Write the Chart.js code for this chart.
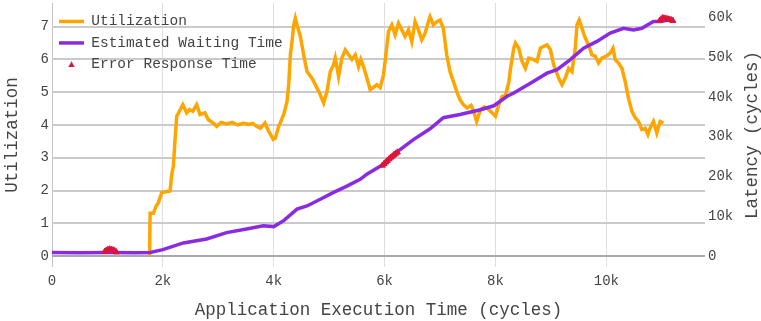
<!DOCTYPE html>
<html>
<head>
<meta charset="utf-8">
<script src="https://cdn.jsdelivr.net/npm/chart.js@4.4.1/dist/chart.umd.min.js"></script>
<style>
    html, body { margin: 0; padding: 0; background: #fff; }
    #wrap { width: 761px; height: 321px; position: relative; }
</style>
</head>
<body>
<div id="wrap"><canvas id="chart"></canvas></div>
<script>
// Utilization over execution time (cycles)
const utilTime = [1760, 1770, 1830, 1870, 1920, 1980, 2130, 2160, 2190, 2220, 2250, 2300, 2360, 2430, 2480, 2540,
    2610, 2670, 2760, 2820, 2910, 2970, 3050, 3150, 3250, 3350, 3450, 3550, 3620, 3690, 3760, 3840, 3900, 3990,
    4030, 4080, 4180, 4240, 4270, 4300, 4330, 4360, 4390, 4420, 4480, 4540, 4600, 4690, 4750, 4840, 4900, 4960,
    5020, 5080, 5110, 5170, 5230, 5290, 5350, 5410, 5470, 5530, 5570, 5620, 5680, 5740, 5800, 5860, 5920, 5980,
    6020, 6070, 6130, 6190, 6250, 6310, 6370, 6430, 6490, 6550, 6610, 6670, 6730, 6790, 6820, 6880, 6940, 7000,
    7060, 7120, 7180, 7240, 7310, 7360, 7420, 7490, 7560, 7600, 7660, 7730, 7800, 7850, 7910, 8000, 8060, 8120,
    8180, 8240, 8270, 8330, 8360, 8420, 8480, 8540, 8600, 8680, 8750, 8810, 8870, 8930, 8990, 9050, 9140, 9200,
    9260, 9320, 9380, 9440, 9470, 9510, 9560, 9620, 9680, 9740, 9800, 9860, 9920, 10000, 10070, 10120, 10160,
    10220, 10280, 10340, 10400, 10460, 10520, 10580, 10640, 10700, 10750, 10790, 10850, 10910, 10970, 11030];
const utilValues = [0, 1.31, 1.31, 1.5, 1.64, 1.94, 1.99, 2.49, 2.75, 3.56, 4.27, 4.42, 4.62, 4.37, 4.47, 4.42,
    4.62, 4.32, 4.37, 4.16, 4.06, 3.96, 4.08, 4.03, 4.08, 4.0, 4.05, 4.02, 4.05, 3.96, 3.9, 4.06, 3.84, 3.56,
    3.6, 3.91, 4.32, 4.72, 5.23, 6.14, 6.54, 7.05, 7.26, 7.05, 6.7, 6.14, 5.63, 5.43, 5.23, 4.92, 4.67, 5.02,
    5.63, 5.84, 6.04, 5.48, 6.04, 6.29, 6.14, 6.0, 6.14, 5.78, 6.0, 5.78, 5.43, 5.08, 5.15, 5.23, 5.14, 5.53,
    6.1, 6.85, 7.05, 6.75, 7.1, 6.9, 6.7, 6.9, 6.54, 7.15, 6.9, 6.6, 6.8, 7.15, 7.3, 7.05, 7.15, 7.2,
    6.95, 6.14, 5.63, 5.33, 4.98, 4.77, 4.62, 4.52, 4.6, 4.45, 4.11, 4.47, 4.55, 4.52, 4.42, 4.27, 4.62, 4.87,
    4.9, 5.3, 5.7, 6.34, 6.5, 6.34, 5.94, 5.73, 6.04, 6.0, 5.94, 6.34, 6.4, 6.44, 6.3, 5.84, 5.43, 5.23,
    5.43, 5.73, 5.63, 6.34, 7.05, 7.2, 6.95, 6.65, 6.44, 6.14, 6.1, 5.89, 6.04, 6.1, 6.19, 6.34, 5.99,
    5.89, 5.73, 5.33, 4.82, 4.42, 4.22, 4.11, 3.86, 3.9, 3.71, 3.91, 4.11, 3.76, 4.11, 4.06];

// Estimated waiting time (latency, cycles)
const waitTime = [0, 500, 1000, 1500, 1770, 2000, 2370, 2790, 3150, 3510, 3810, 4000, 4180, 4420, 4600, 4840,
    5080, 5320, 5560, 5680, 5980, 6280, 6520, 6820, 7060, 7360, 7730, 7970, 8210, 8330, 8630, 8930, 9110,
    9350, 9590, 9830, 10070, 10310, 10490, 10640, 10850, 10970, 11100];
const waitValues = [900, 850, 900, 850, 900, 1600, 3300, 4300, 5900, 6800, 7600, 7400, 8900, 11800, 12600, 14300,
    16000, 17600, 19300, 20600, 23100, 26800, 29300, 32000, 34800, 35600, 36800, 37800, 40200, 41000, 43500,
    46000, 46900, 49400, 52300, 54000, 56100, 57300, 56900, 57300, 59000, 59000, 59300];

// Error response time samples
const errTime = [950, 980, 1010, 1040, 1070, 1100, 1130, 1160,
    5960, 5990, 6020, 6050, 6080, 6110, 6140, 6170, 6200, 6230,
    10960, 10990, 11020, 11050, 11080, 11110, 11140, 11170, 11200];
const errValues = [1100, 1400, 1600, 1700, 1600, 1500, 1300, 1000,
    22800, 23200, 23600, 24000, 24400, 24800, 25100, 25500, 25800, 26100,
    59200, 59600, 59900, 59800, 59700, 59600, 59500, 59400, 59200];

// Tick positions
const xTicks = [0, 2000, 4000, 6000, 8000, 10000];
const utilTicks = [0, 1, 2, 3, 4, 5, 6, 7];
const latencyTicks = [0, 10000, 20000, 30000, 40000, 50000, 60000];

const FONT = '"Courier New", "Liberation Mono", monospace';
const TEXT = '#444';

function toPoints(xs, ys) {
    return xs.map((x, i) => ({ x: x, y: ys[i] }));
}

function kLabel(v) {
    return v === 0 ? '0' : (v / 1000) + 'k';
}

function fixedTicks(values) {
    return scale => { scale.ticks = values.map(v => ({ value: v })); };
}

// no extra room around the plot for half tick labels
function fixSize(prop, size) {
    return scale => {
        scale[prop] = size;
        scale.paddingTop = 0;
        scale.paddingBottom = 0;
        scale.paddingLeft = 0;
        scale.paddingRight = 0;
    };
}

// small triangle used as the legend icon for the error series
function triangleIcon(color) {
    const c = document.createElement('canvas');
    c.width = 7;
    c.height = 6;
    const g = c.getContext('2d');
    g.fillStyle = color;
    g.beginPath();
    g.moveTo(3.5, 0);
    g.lineTo(7, 6);
    g.lineTo(0, 6);
    g.closePath();
    g.fill();
    return c;
}

// Right axis title reads bottom-to-top, so it is drawn here
const latencyTitle = {
    id: 'latencyTitle',
    afterDraw(chart) {
        const ctx = chart.ctx;
        const area = chart.chartArea;
        ctx.save();
        ctx.translate(752, (area.top + area.bottom) / 2);
        ctx.rotate(-Math.PI / 2);
        ctx.font = '17.5px ' + FONT;
        ctx.fillStyle = TEXT;
        ctx.textAlign = 'center';
        ctx.textBaseline = 'middle';
        ctx.fillText('Latency (cycles)', 0, 0);
        ctx.restore();
    }
};

const errIcon = triangleIcon('#DC143C');

const ctx = document.getElementById('chart').getContext('2d');
new Chart(ctx, {
    type: 'line',
    data: {
        datasets: [
            {
                label: 'Utilization',
                data: toPoints(utilTime, utilValues),
                borderColor: '#FFA500',
                backgroundColor: '#FFA500',
                borderWidth: 3.5,
                pointRadius: 0,
                pointStyle: 'line',
                yAxisID: 'y',
                order: 3
            },
            {
                label: 'Estimated Waiting Time',
                data: toPoints(waitTime, waitValues),
                borderColor: '#8A2BE2',
                backgroundColor: '#8A2BE2',
                borderWidth: 3.5,
                pointRadius: 0,
                pointStyle: 'line',
                yAxisID: 'y1',
                order: 2
            },
            {
                label: 'Error Response Time',
                data: toPoints(errTime, errValues),
                showLine: false,
                borderColor: '#DC143C',
                backgroundColor: '#DC143C',
                borderWidth: 1,
                pointRadius: 3.5,
                pointStyle: 'triangle',
                yAxisID: 'y1',
                order: 1
            }
        ]
    },
    options: {
        responsive: true,
        maintainAspectRatio: false,
        animation: false,
        layout: { autoPadding: false, padding: { top: 3 } },
        plugins: {
            tooltip: { enabled: false },
            legend: {
                position: 'chartArea',
                align: 'start',
                title: { display: true, text: '', font: { size: 1 }, padding: 3 },
                labels: {
                    usePointStyle: true,
                    pointStyleWidth: 25,
                    boxHeight: 4,
                    padding: 7,
                    color: TEXT,
                    font: { family: FONT, size: 14.5 },
                    sort: (a, b) => a.datasetIndex - b.datasetIndex,
                    generateLabels: chart => {
                        const items = Chart.defaults.plugins.legend.labels.generateLabels(chart);
                        items.forEach(item => {
                            if (item.datasetIndex === 2) item.pointStyle = errIcon;
                        });
                        return items;
                    }
                }
            }
        },
        scales: {
            x: {
                type: 'linear',
                min: 0,
                max: 11780,
                afterFit: fixSize('height', 54),
                afterBuildTicks: fixedTicks(xTicks),
                border: { display: false },
                grid: {
                    drawTicks: false,
                    color: c => c.tick && c.tick.value === 0 ? '#c4c4c4' : '#dedede',
                    lineWidth: 1
                },
                ticks: {
                    padding: 6,
                    color: TEXT,
                    font: { family: FONT, size: 14 },
                    maxRotation: 0,
                    autoSkip: false,
                    callback: v => kLabel(v)
                },
                title: {
                    display: true,
                    text: 'Application Execution Time (cycles)',
                    color: TEXT,
                    font: { family: FONT, size: 17.5, lineHeight: 1 },
                    padding: { top: 0, bottom: 2 }
                }
            },
            y: {
                position: 'left',
                min: -0.33,
                max: 7.72,
                afterFit: fixSize('width', 52),
                afterBuildTicks: fixedTicks(utilTicks),
                border: { display: false },
                grid: {
                    drawTicks: false,
                    color: c => c.tick && c.tick.value === 0 ? '#a8a8a8' : '#cacaca',
                    lineWidth: 2
                },
                ticks: {
                    padding: 3,
                    color: TEXT,
                    autoSkip: false,
                    font: { family: FONT, size: 14 }
                },
                title: {
                    display: true,
                    text: 'Utilization',
                    color: TEXT,
                    font: { family: FONT, size: 17.5, lineHeight: 1 },
                    padding: { top: 4, bottom: 0 }
                }
            },
            y1: {
                position: 'right',
                min: -2760,
                max: 63660,
                afterFit: fixSize('width', 56),
                afterBuildTicks: fixedTicks(latencyTicks),
                border: { display: false },
                grid: { drawOnChartArea: false, drawTicks: false },
                ticks: {
                    padding: 3,
                    color: TEXT,
                    autoSkip: false,
                    font: { family: FONT, size: 14 },
                    callback: v => kLabel(v)
                }
            }
        }
    },
    plugins: [latencyTitle]
});
</script>
</body>
</html>
